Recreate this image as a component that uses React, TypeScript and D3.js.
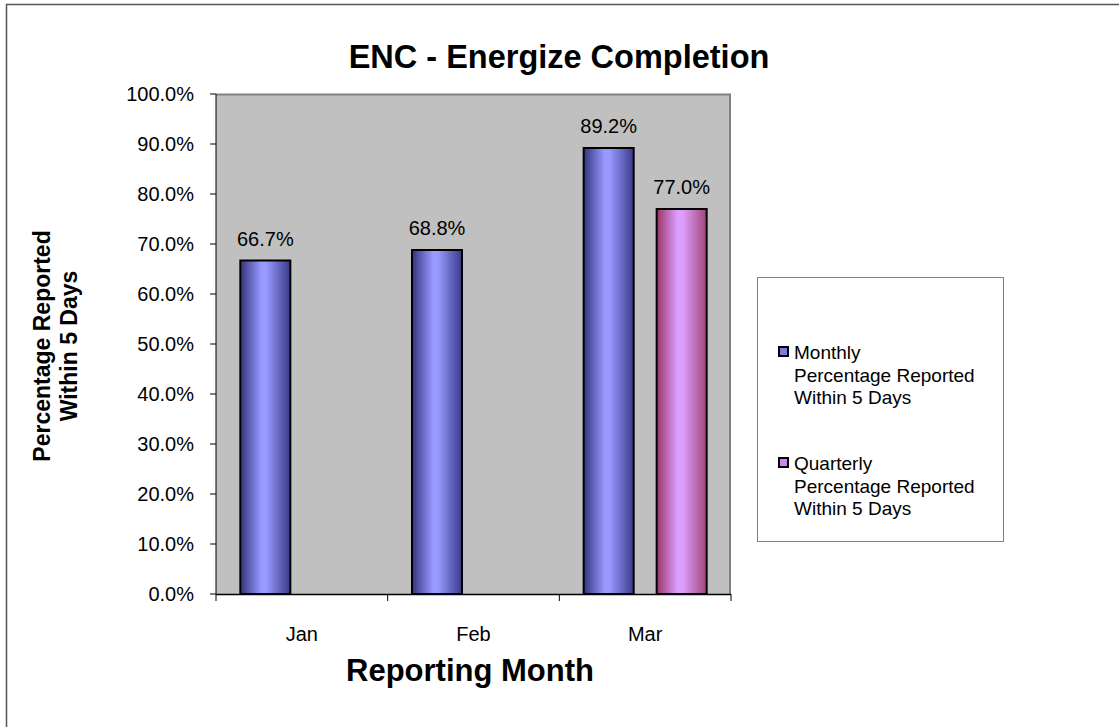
import React from "react";
import * as d3 from "d3";

const categories = ["Jan", "Feb", "Mar"];
const monthly = [66.7, 68.8, 89.2];
const quarterly: (number | null)[] = [null, null, 77.0];
const yTicks = [0, 10, 20, 30, 40, 50, 60, 70, 80, 90, 100];
const seriesNames = [
  ["Monthly", "Percentage Reported", "Within 5 Days"],
  ["Quarterly", "Percentage Reported", "Within 5 Days"],
];

const W = 1119;
const H = 727;
const plot = { left: 216, top: 94, right: 731, bottom: 594 };
const font = "'Liberation Sans', Arial, sans-serif";

export default function App() {
  const x = d3.scaleBand<string>().domain(categories).range([plot.left, plot.right]).padding(0);
  const y = d3.scaleLinear().domain([0, 100]).range([plot.bottom, plot.top]);
  const barW = 50;
  const offset = 36.5;

  const series = [
    { values: monthly as (number | null)[], grad: "gMon", dx: -offset },
    { values: quarterly, grad: "gQtr", dx: offset },
  ];

  return (
    <svg width={W} height={H} style={{ position: "absolute", left: 0, top: 0 }} fontFamily={font}>
      <defs>
        <linearGradient id="gMon" x1="0" x2="1" y1="0" y2="0">
          <stop offset="0" stopColor="#33337f" />
          <stop offset="0.42" stopColor="#9999ff" />
          <stop offset="0.52" stopColor="#9999ff" />
          <stop offset="1" stopColor="#3a3a8a" />
        </linearGradient>
        <linearGradient id="gQtr" x1="0" x2="1" y1="0" y2="0">
          <stop offset="0" stopColor="#993366" />
          <stop offset="0.42" stopColor="#dd9fff" />
          <stop offset="0.52" stopColor="#dd9fff" />
          <stop offset="1" stopColor="#a04477" />
        </linearGradient>
      </defs>
      <rect x={0} y={0} width={W} height={H} fill="#fff" />
      <rect x={6.5} y={4.5} width={1300} height={900} fill="#fff" stroke="#555" strokeWidth={1.5} />

      <text x={559} y={68} textAnchor="middle" fontSize={32.5} fontWeight="bold">
        ENC - Energize Completion
      </text>

      {/* plot area */}
      <rect x={plot.left} y={plot.top} width={plot.right - plot.left} height={plot.bottom - plot.top} fill="#c0c0c0" />
      <line x1={plot.left} x2={plot.right} y1={plot.top + 0.5} y2={plot.top + 0.5} stroke="#808080" strokeWidth={2} />
      <line x1={plot.right - 1} x2={plot.right - 1} y1={plot.top} y2={plot.bottom} stroke="#808080" strokeWidth={2} />

      {/* bars */}
      {series.map((s, si) =>
        s.values.map((v, i) => {
          if (v == null) return null;
          const cx = (x(categories[i]) as number) + x.bandwidth() / 2 + s.dx;
          return (
            <g key={`${si}-${i}`}>
              <rect
                x={cx - barW / 2}
                y={y(v)}
                width={barW}
                height={plot.bottom - y(v)}
                fill={`url(#${s.grad})`}
                stroke="#000"
                strokeWidth={2}
              />
              <text x={cx} y={y(v) - 15} textAnchor="middle" fontSize={20} fill="#000">
                {v.toFixed(1) + "%"}
              </text>
            </g>
          );
        })
      )}

      {/* y axis */}
      <line x1={plot.left} x2={plot.left} y1={plot.top} y2={plot.bottom} stroke="#000" strokeWidth={1} />
      {yTicks.map((t) => (
        <g key={t}>
          <line x1={plot.left - 6} x2={plot.left} y1={y(t)} y2={y(t)} stroke="#000" />
          <text x={194} y={y(t) + 7} textAnchor="end" fontSize={20}>
            {t.toFixed(1) + "%"}
          </text>
        </g>
      ))}

      {/* x axis */}
      <line x1={plot.left} x2={plot.right} y1={plot.bottom + 0.5} y2={plot.bottom + 0.5} stroke="#000" strokeWidth={1.5} />
      {[...categories.map((c) => x(c) as number), plot.right].map((px, i) => (
        <line key={i} x1={px} x2={px} y1={plot.bottom} y2={plot.bottom + 7} stroke="#000" />
      ))}
      {categories.map((c) => (
        <text key={c} x={(x(c) as number) + x.bandwidth() / 2} y={641} textAnchor="middle" fontSize={20}>
          {c}
        </text>
      ))}

      <text x={470} y={681} textAnchor="middle" fontSize={31} fontWeight="bold">
        Reporting Month
      </text>
      <text transform="translate(0,346) rotate(-90)" textAnchor="middle" fontSize={23} fontWeight="bold">
        <tspan x={0} y={50}>Percentage Reported</tspan>
        <tspan x={0} y={77}>Within 5 Days</tspan>
      </text>

      {/* legend */}
      <rect x={757.5} y={277.5} width={246} height={264} fill="#fff" stroke="#808080" strokeWidth={1} />
      {seriesNames.map((lines, i) => {
        const top = 352 + i * 111;
        return (
          <g key={i}>
            <rect
              x={779}
              y={top - 5}
              width={9}
              height={9}
              fill={i === 0 ? "#7b7be0" : "#cc88ee"}
              stroke="#000"
              strokeWidth={2}
            />
            {lines.map((l, j) => (
              <text key={j} x={794} y={top + 7 + j * 22.5} fontSize={19}>
                {l}
              </text>
            ))}
          </g>
        );
      })}
    </svg>
  );
}
